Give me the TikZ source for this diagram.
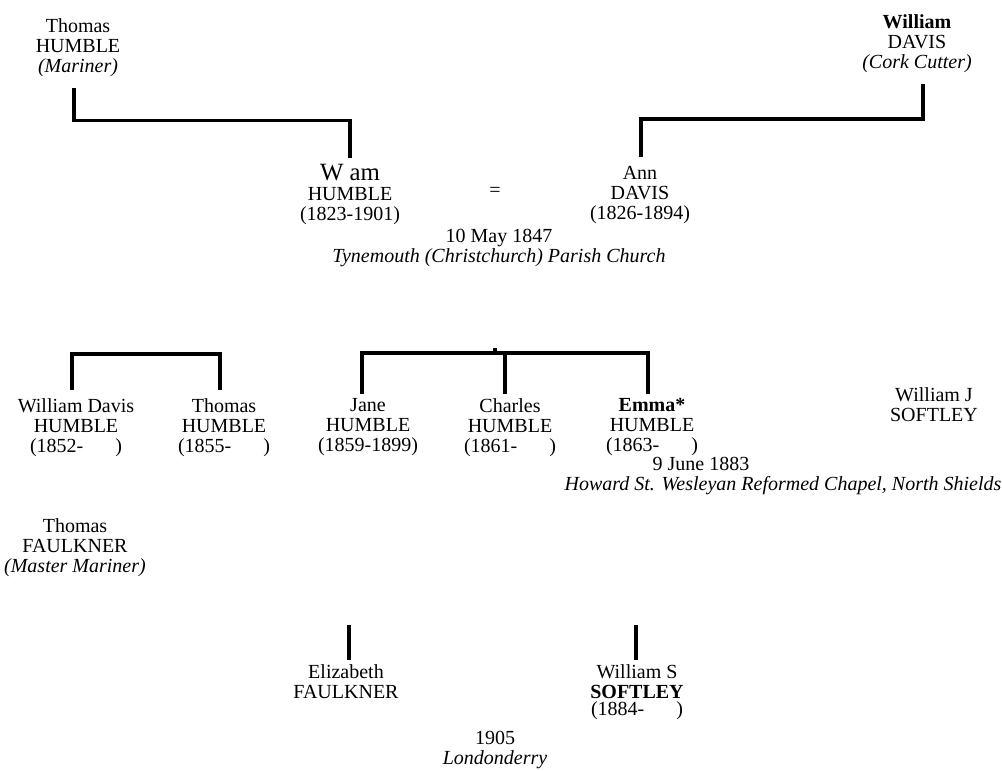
\documentclass[tikz,border=0pt]{standalone}
\usepackage{fontspec}
\setmainfont{Liberation Serif}
\usetikzlibrary{calc}
\tikzset{person/.style = {anchor=north, align=center, inner sep=0pt, font=\fontsize{10}{10}\selectfont}}
\tikzset{kin/.style = {line width=1.6pt}}
\newcommand{\openyr}[1]{(#1-\hspace{1.6em})}

\begin{document}
\begin{tikzpicture}[x=0.5pt, y=-0.5pt]
\useasboundingbox (0,0) rectangle (1002,771);
\node[person] (thomasH) at (78,18) {Thomas\\HUMBLE\\\textit{(Mariner)}};
\node[person] (williamD) at (917,14) {\textbf{William}\\DAVIS\\\textit{(Cork Cutter)}};
\node[person] (williamH) at (350,164) {{\fontsize{12.4}{10}\selectfont W am}\\HUMBLE\\(1823-1901)};
\node[person, anchor=center] (equals) at (495,192) {=};
\node[person] (annD) at (640,166) {Ann\\DAVIS\\(1826-1894)};
\node[person] (wed1) at (499,229) {10 May 1847\\\textit{Tynemouth (Christchurch) Parish Church}};
\node[person] (williamDH) at (76,398) {William Davis\\HUMBLE\\\openyr{1852}};
\node[person] (thomasHH) at (224,398) {Thomas\\HUMBLE\\\openyr{1855}};
\node[person] (jane) at (368,398) {Jane\\HUMBLE\\(1859-1899)};
\node[person] (charles) at (510,398) {Charles\\HUMBLE\\\openyr{1861}};
\node[person] (emma) at (652,398) {\textbf{Emma*}\\HUMBLE\\\openyr{1863}};
\node[person] (williamJ) at (934,387) {William J\\SOFTLEY};
\node[person] (wed2date) at (701,457) {9 June 1883};
\node[person] (wed2place) at (783,476) {\textit{Howard St. Wesleyan Reformed Chapel, North Shields}};
\node[person] (thomasF) at (75,518) {Thomas\\FAULKNER\\\textit{(Master Mariner)}};
\node[person] (elizabeth) at (346,664) {Elizabeth\\FAULKNER};
\node[person] (williamS) at (637,664) {William S\\\textbf{SOFTLEY}\\[-1.5pt]\openyr{1884}};
\node[person] (wed3) at (495,731) {1905\\\textit{Londonderry}};
\draw[kin] ([xshift=-2pt,yshift=-5.75pt]thomasH.south) -- ++(0,32) -| ([yshift=3pt]williamH.north);
\draw[kin] ([xshift=3pt,yshift=-5.5pt]williamD.south) -- ++(0,35) -| ([xshift=0.5pt,yshift=4.5pt]annD.north);
\draw[kin] ([xshift=-2pt,yshift=4pt]williamDH.north) -- ++(0,-36) -| ([xshift=-2pt,yshift=4pt]thomasHH.north);
\coordinate (sibs) at (505,353);
\draw[kin] ([xshift=-3pt,yshift=2pt]jane.north) |- (sibs) -| ([xshift=-2pt,yshift=2pt]emma.north);
\draw[kin] (sibs) -- ([xshift=-2.5pt,yshift=2pt]charles.north);
\draw[kin] (sibs) ++(-10,0) -- ++(0,-5);
\draw[kin] ([xshift=1.5pt,yshift=2pt]elizabeth.north) -- ++(0,-35);
\draw[kin] ([xshift=-0.5pt,yshift=2pt]williamS.north) -- ++(0,-35);
\end{tikzpicture}
\end{document}
